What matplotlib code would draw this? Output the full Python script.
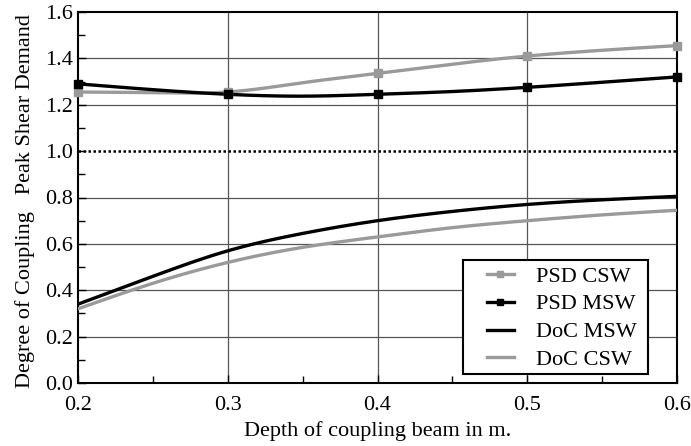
import numpy as np
import matplotlib.pyplot as plt
from matplotlib.ticker import MultipleLocator
from matplotlib.lines import Line2D
from matplotlib.patches import Rectangle

# depth of coupling beam (m)
depth = [0.2, 0.3, 0.4, 0.5, 0.6]
psd_csw = [1.255, 1.255, 1.335, 1.41, 1.455]
psd_msw = [1.29, 1.245, 1.245, 1.275, 1.32]

# curve traces read at finer steps
depth_fine = [0.2, 0.25, 0.3, 0.35, 0.4, 0.45, 0.5, 0.55, 0.6]
psd_csw_fine = [1.255, 1.252, 1.255, 1.295, 1.335, 1.375, 1.41, 1.435, 1.455]
psd_msw_fine = [1.29, 1.265, 1.245, 1.237, 1.245, 1.257, 1.275, 1.297, 1.32]
doc_msw = [0.34, 0.46, 0.57, 0.645, 0.70, 0.74, 0.77, 0.79, 0.805]
doc_csw = [0.32, 0.43, 0.52, 0.585, 0.63, 0.67, 0.70, 0.725, 0.745]

gray = '#9a9a9a'
W, H = 691, 446

plt.rcParams['font.family'] = ['Liberation Serif', 'DejaVu Serif']
fig = plt.figure(figsize=(W/100, H/100), dpi=100)
ax = fig.add_axes([78/W, 1-383/H, 599/W, 371/H])

def smooth(x, y):
    # natural cubic spline through the read points
    xs = np.linspace(x[0], x[-1], 200)
    ys = np.zeros_like(xs)
    y = np.asarray(y, float)
    n = len(x)
    h = np.diff(x)
    A = np.zeros((n, n)); b = np.zeros(n)
    A[0, 0] = A[-1, -1] = 1
    for i in range(1, n-1):
        A[i, i-1] = h[i-1]; A[i, i] = 2*(h[i-1]+h[i]); A[i, i+1] = h[i]
        b[i] = 3*((y[i+1]-y[i])/h[i] - (y[i]-y[i-1])/h[i-1])
    c = np.linalg.solve(A, b)
    for k in range(n-1):
        m = (xs >= x[k]) & (xs <= x[k+1])
        t = xs[m] - x[k]
        bb = (y[k+1]-y[k])/h[k] - h[k]*(2*c[k]+c[k+1])/3
        d = (c[k+1]-c[k])/(3*h[k])
        ys[m] = y[k] + bb*t + c[k]*t**2 + d*t**3
    return xs, ys

for xg in [0.3, 0.4, 0.5]:
    ax.axvline(xg, color='#555555', lw=0.9, zorder=1)
for yg in [0.2, 0.4, 0.6, 0.8, 1.2, 1.4]:
    ax.axhline(yg, color='#555555', lw=0.9, zorder=1)
ax.axhline(1.0, color='black', lw=1.8, ls=(0, (1, 1)), zorder=1)

lw = 2.4
xs, ys = smooth(depth_fine, psd_csw_fine)
ax.plot(xs, ys, color=gray, lw=lw, zorder=3)
ax.plot(depth, psd_csw, 's', color=gray, ms=6, zorder=4, clip_on=False)

xs, ys = smooth(depth_fine, psd_msw_fine)
ax.plot(xs, ys, color='black', lw=lw, zorder=3)
ax.plot(depth, psd_msw, 's', color='black', ms=6, zorder=4, clip_on=False)

xs, ys = smooth(depth_fine, doc_msw)
ax.plot(xs, ys, color='black', lw=lw, zorder=3)
xs, ys = smooth(depth_fine, doc_csw)
ax.plot(xs, ys, color=gray, lw=lw, zorder=3)

ax.set_xlim(0.2, 0.6)
ax.set_ylim(0, 1.6)
ax.xaxis.set_major_locator(MultipleLocator(0.1))
ax.xaxis.set_minor_locator(MultipleLocator(0.05))
ax.yaxis.set_major_locator(MultipleLocator(0.2))
ax.yaxis.set_minor_locator(MultipleLocator(0.1))
ax.xaxis.set_major_formatter(plt.FuncFormatter(lambda v, p: f'{v:.1f}'))
ax.yaxis.set_major_formatter(plt.FuncFormatter(lambda v, p: f'{v:.1f}'))
ax.tick_params(which='both', direction='in', labelsize=16, width=1)
ax.tick_params(which='major', length=6)
ax.tick_params(which='minor', length=5)
ax.tick_params(axis='x', pad=9)
for s in ax.spines.values():
    s.set_linewidth(1.5)

ax.set_xlabel('Depth of coupling beam in m.', fontsize=16, labelpad=5)
ax.set_ylabel('Degree of Coupling   Peak Shear Demand', fontsize=16)
ax.yaxis.set_label_coords(-0.072, 0.49)

# legend frame placed where the reference has it
frame = Rectangle((463/W, 1-374/H), 185/W, 114/H, transform=fig.transFigure,
                  facecolor='white', edgecolor='black', lw=1.5, zorder=5)
fig.add_artist(frame)
handles = [
    Line2D([], [], color=gray, lw=lw, marker='s', ms=4),
    Line2D([], [], color='black', lw=lw, marker='s', ms=4),
    Line2D([], [], color='black', lw=lw),
    Line2D([], [], color=gray, lw=lw),
]
labels = ['PSD CSW', 'PSD MSW', 'DoC MSW', 'DoC CSW']
leg = fig.legend(handles, labels, loc='upper left',
                 bbox_to_anchor=(487/W, 1-266/H), fontsize=16,
                 frameon=False, borderpad=0, borderaxespad=0,
                 handlelength=1.2, handletextpad=1.0, labelspacing=0.33)
leg.set_zorder(6)

plt.savefig('out.png', dpi=100)
